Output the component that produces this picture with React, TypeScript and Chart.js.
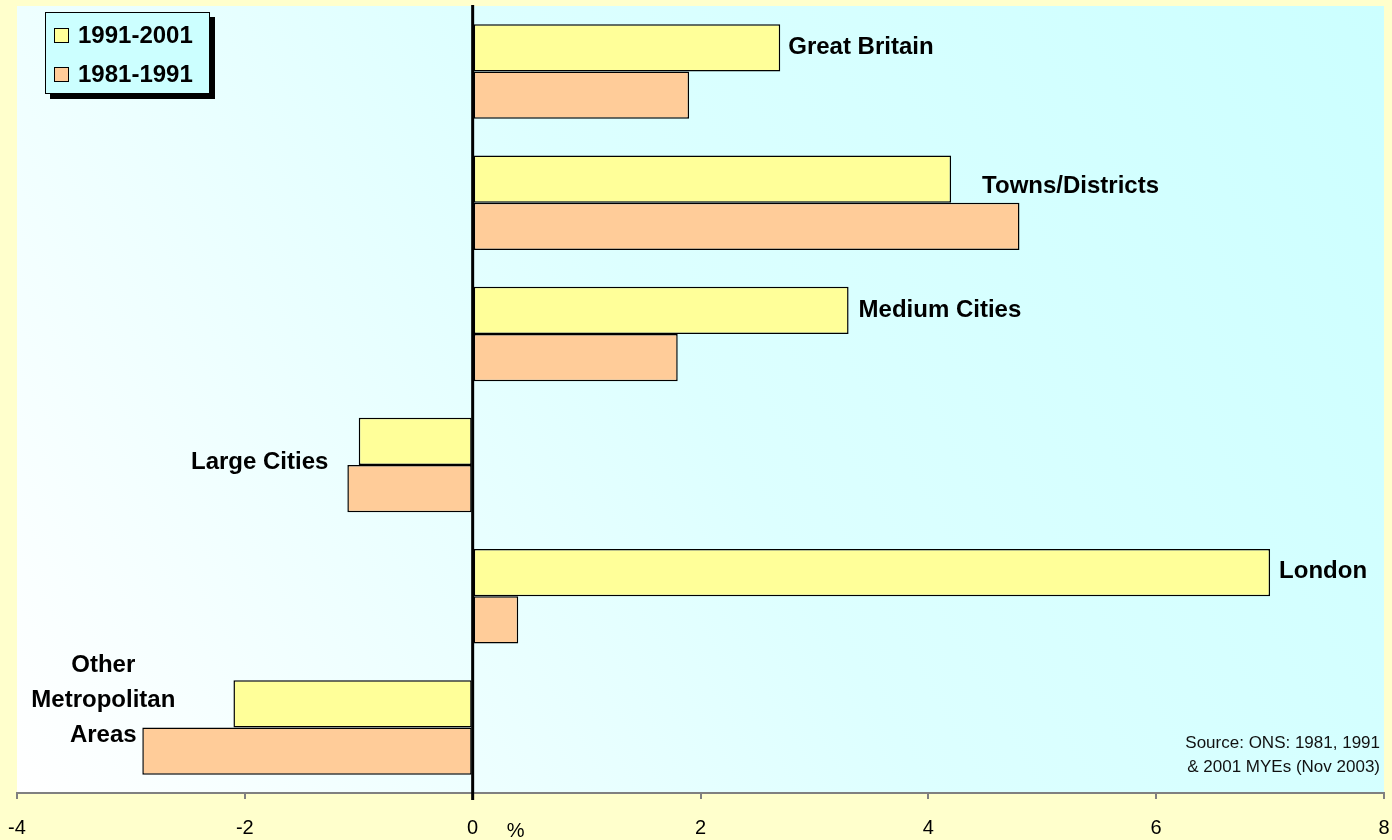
import React, { useEffect, useRef } from "react";
import { Chart, registerables } from "chart.js";

Chart.register(...registerables);

const categories: string[][] = [
  ["Great Britain"],
  ["Towns/Districts"],
  ["Medium Cities"],
  ["Large Cities"],
  ["London"],
  ["Other", "Metropolitan", "Areas"],
];
const seriesNames = ["1991-2001", "1981-1991"];
const values1991to2001 = [2.7, 4.2, 3.3, -1.0, 7.0, -2.1];
const values1981to1991 = [1.9, 4.8, 1.8, -1.1, 0.4, -2.9];
const xMin = -4;
const xMax = 8;
const xStep = 2;
const unitLabel = "%";
const sourceLines = ["Source: ONS: 1981, 1991", "& 2001 MYEs (Nov 2003)"];

const seriesColors = ["#FFFF99", "#FFCC99"];
const FONT = "'Liberation Sans', Arial, sans-serif";

// label placement relative to a bar end (dataset index), in pixels
const labelPlacement = [
  { ref: 0, align: "left", dx: 8, dy: -24 },
  { ref: 0, align: "left", dx: 31, dy: -16 },
  { ref: 0, align: "left", dx: 10, dy: -24 },
  { ref: 1, align: "right", dx: -19, dy: -3 },
  { ref: 0, align: "left", dx: 9, dy: -25 },
  { ref: 1, align: "center", dx: -39, dy: -27 },
];

const decorPlugin = {
  id: "decor",
  beforeDraw(chart: any) {
    const { ctx, chartArea: a } = chart;
    ctx.save();
    const g = ctx.createLinearGradient(a.left, a.bottom, a.right, a.top);
    g.addColorStop(0, "#FFFFFF");
    g.addColorStop(0.5, "#DDFFFF");
    g.addColorStop(1, "#CCFFFF");
    ctx.fillStyle = g;
    ctx.fillRect(a.left, a.top, a.right - a.left, a.bottom - a.top);
    ctx.restore();
  },
  afterDatasetsDraw(chart: any) {
    const { ctx, chartArea: a } = chart;
    const x0 = chart.scales.x.getPixelForValue(0);
    ctx.save();
    ctx.strokeStyle = "#000000";
    ctx.lineWidth = 3;
    ctx.beginPath();
    ctx.moveTo(x0, a.top - 1);
    ctx.lineTo(x0, a.bottom + 7);
    ctx.stroke();
    ctx.restore();
  },
  afterDraw(chart: any) {
    const { ctx, chartArea: a } = chart;
    const xs = chart.scales.x;
    const ys = chart.scales.y;
    const data = [values1991to2001, values1981to1991];
    ctx.save();
    // category labels
    ctx.font = `bold 24px ${FONT}`;
    ctx.fillStyle = "#000000";
    ctx.textBaseline = "middle";
    categories.forEach((lines, i) => {
      const p = labelPlacement[i];
      const x = xs.getPixelForValue(data[p.ref][i]) + p.dx;
      const yc = ys.getPixelForValue(i) + p.dy;
      const lh = 35;
      ctx.textAlign = p.align;
      lines.forEach((t, k) => {
        const y = yc + (k - (lines.length - 1) / 2) * lh;
        ctx.fillText(t, x, y);
      });
    });
    // unit label
    ctx.font = `20px ${FONT}`;
    ctx.textAlign = "center";
    ctx.fillText(unitLabel, xs.getPixelForValue(0) + 43, a.bottom + 38);
    // source text
    ctx.font = `17px ${FONT}`;
    ctx.fillStyle = "#111111";
    ctx.textAlign = "right";
    sourceLines.forEach((t, k) => {
      ctx.fillText(t, a.right - 4, a.bottom - 50 + k * 24);
    });
    // legend
    const lx = a.left + 28, ly = a.top + 6, lw = 165, lhh = 82;
    ctx.fillStyle = "#000000";
    ctx.fillRect(lx + 5, ly + 5, lw, lhh);
    ctx.fillStyle = "#CCFFFF";
    ctx.fillRect(lx, ly, lw, lhh);
    ctx.strokeStyle = "#000000";
    ctx.lineWidth = 1;
    ctx.strokeRect(lx + 0.5, ly + 0.5, lw - 1, lhh - 1);
    ctx.font = `bold 24px ${FONT}`;
    ctx.textAlign = "left";
    seriesNames.forEach((name, k) => {
      const cy = ly + 23 + k * 39;
      ctx.fillStyle = seriesColors[k];
      ctx.fillRect(lx + 9, cy - 7, 15, 15);
      ctx.strokeStyle = "#000000";
      ctx.strokeRect(lx + 9.5, cy - 6.5, 14, 14);
      ctx.fillStyle = "#000000";
      ctx.fillText(name, lx + 33, cy + 1);
    });
    ctx.restore();
  },
};

export default function App() {
  const ref = useRef<HTMLCanvasElement | null>(null);
  useEffect(() => {
    if (!ref.current) return;
    const chart = new Chart(ref.current, {
      type: "bar",
      data: {
        labels: categories,
        datasets: [
          {
            label: seriesNames[0],
            data: values1991to2001,
            backgroundColor: seriesColors[0],
            borderColor: "#000000",
            borderWidth: 1.5,
            borderSkipped: false,
          },
          {
            label: seriesNames[1],
            data: values1981to1991,
            backgroundColor: seriesColors[1],
            borderColor: "#000000",
            borderWidth: 1.5,
            borderSkipped: false,
          },
        ],
      },
      options: {
        indexAxis: "y",
        responsive: false,
        animation: false,
        devicePixelRatio: 1,
        layout: { padding: { left: 17, right: 8, top: 6, bottom: 0 } },
        plugins: {
          legend: { display: false },
          tooltip: { enabled: false },
        },
        datasets: { bar: { barPercentage: 1, categoryPercentage: 0.72 } },
        scales: {
          y: { type: "category", display: false, offset: true },
          x: {
            type: "linear",
            min: xMin,
            max: xMax,
            ticks: {
              stepSize: xStep,
              color: "#000000",
              font: { family: FONT, size: 20 },
              padding: 17,
              maxRotation: 0,
            },
            grid: {
              drawOnChartArea: false,
              drawTicks: true,
              tickLength: 6,
              color: "#808080",
              lineWidth: 2,
            },
            border: { display: true, color: "#808080", width: 2 },
            afterFit(scale: any) {
              scale.height = 47;
              scale.paddingLeft = 0;
              scale.paddingRight = 0;
            },
          },
        },
      },
      plugins: [decorPlugin],
    } as any);
    return () => chart.destroy();
  }, []);
  return (
    <div
      style={{
        position: "fixed",
        left: 0,
        top: 0,
        width: 1392,
        height: 840,
        background: "#FFFFCC",
      }}
    >
      <canvas ref={ref} width={1392} height={840} style={{ display: "block" }} />
    </div>
  );
}
